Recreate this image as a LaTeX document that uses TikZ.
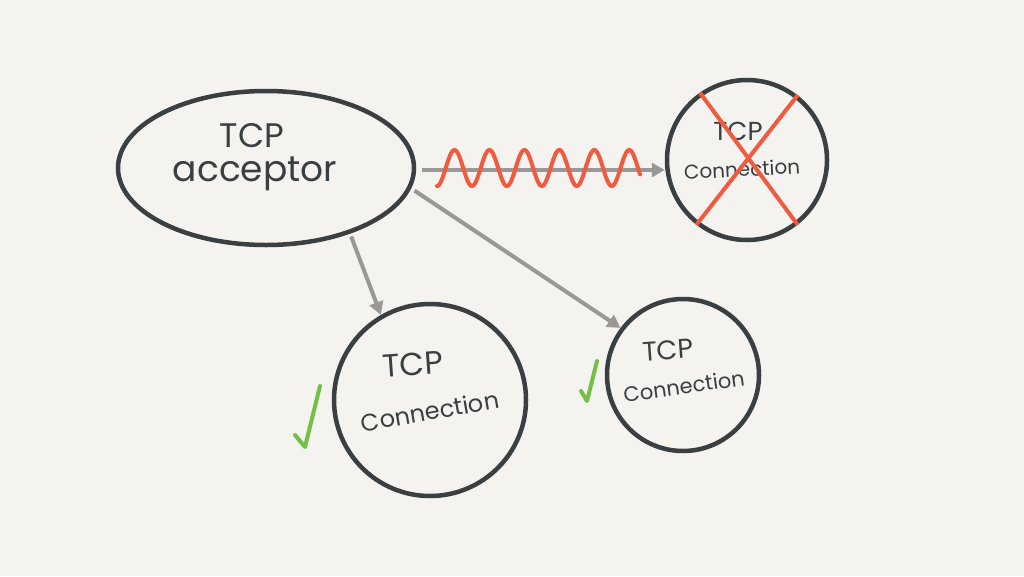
\documentclass[tikz,border=0pt]{standalone}
\usepackage{fontspec}
\setmainfont{Poppins}
\usetikzlibrary{arrows.meta,shapes.geometric}
\definecolor{bg}{HTML}{F4F3F0}
\definecolor{ink}{HTML}{3A3F41}
\definecolor{arr}{HTML}{9A9896}
\definecolor{wave}{HTML}{F05A3F}
\definecolor{ok}{HTML}{72C044}
\tikzset{
  shapeline/.style={draw=ink, line width=4.5pt},
  hand/.style={text=ink, inner sep=0pt},
  flow/.style={draw=arr, line width=4pt, -{Triangle[length=13pt,width=14pt]}},
  tick/.style={draw=ok, line width=4pt, line cap=round, line join=round},
  cross/.style={draw=wave, line width=4pt},
}
\begin{document}
\begin{tikzpicture}[x=1pt,y=-1pt]
\fill[bg] (0,0) rectangle (1024,576);
\useasboundingbox (0,0) rectangle (1024,576);
% shapes
\node[shapeline, ellipse, minimum width=296pt, minimum height=154pt] (acc) at (266,168) {};
\node[shapeline, circle, minimum size=160pt] (cx) at (747,160) {};
\node[shapeline, circle, minimum size=192pt] (c1) at (430,400) {};
\node[shapeline, circle, minimum size=152pt] (c2) at (683,375) {};
% texts
\node[hand, font=\fontsize{34}{34}\selectfont] (t0) at (252,136) {TCP};
\node[hand, font=\fontsize{36}{36}\selectfont] (t1) at (255,174) {acceptor};
\node[hand, font=\fontsize{26}{26}\selectfont] (tx1) at (738,131) {TCP};
\node[hand, font=\fontsize{20}{20}\selectfont, rotate=3] (tx2) at (742,169) {Connection};
\node[hand, font=\fontsize{32}{32}\selectfont, rotate=4] (ta1) at (413,364) {TCP};
\node[hand, font=\fontsize{24}{24}\selectfont, rotate=10] (ta2) at (430,411) {Connection};
\node[hand, font=\fontsize{27}{27}\selectfont, rotate=4] (tb1) at (668,350) {TCP};
\node[hand, font=\fontsize{21}{21}\selectfont, rotate=8] (tb2) at (684,386) {Connection};
% arrows
\draw[flow] (acc.east) ++(6,2) coordinate (s0) -- (cx.west |- s0);
\draw[flow, shorten <=3pt] (acc.-38) -- (c1.120);
\draw[flow, shorten <=4pt] (acc.-8) -- (c2.143);
% wave
\draw[wave, line width=4pt, line cap=round] plot[domain=437:640, samples=220, smooth] (\x, {168 + 18*cos((\x-437)*10.3)});
% cross
\draw[cross] (cx.125) -- (cx.-52);
\draw[cross] (cx.52) -- (cx.-128);
% ticks
\draw[tick] (295,435) -- (305,447) -- (320,386);
\draw[tick] (581,391) -- (587,401) -- (597,361);
\end{tikzpicture}
\end{document}
